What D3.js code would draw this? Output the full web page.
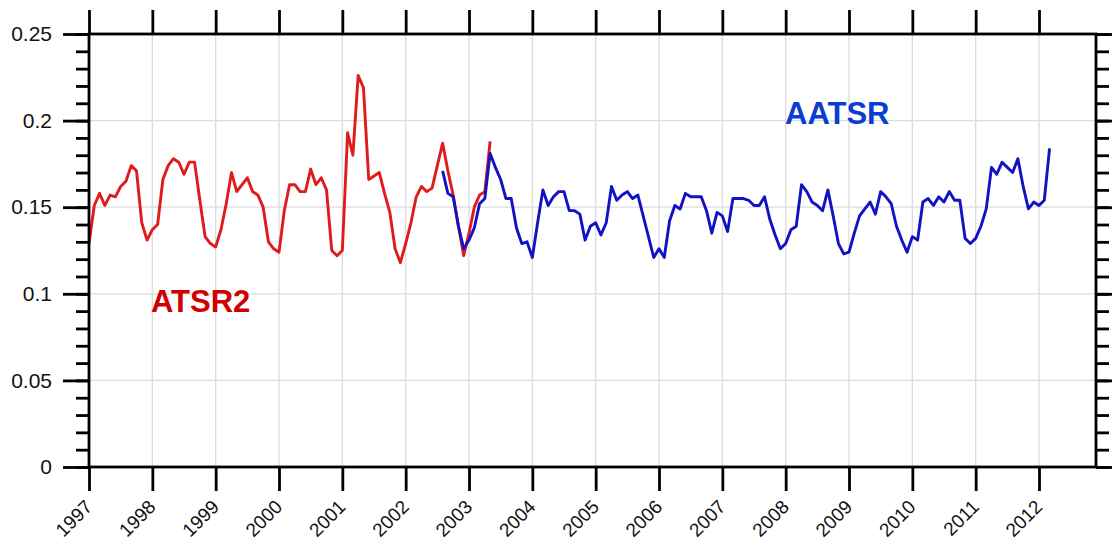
<!DOCTYPE html>
<html>
<head>
<meta charset="utf-8">
<script src="https://cdn.jsdelivr.net/npm/d3@7"></script>
<style>
  body { margin: 0; background: #fff; }
  text { font-family: "Liberation Sans", Arial, Helvetica, sans-serif; }
</style>
</head>
<body>
<div id="chart"></div>
<script>
// Monthly values, ATSR2 starts Jan 1997, AATSR starts Aug 2002
const atsr2Start = [1997, 0];
const atsr2Values = [
  0.129, 0.151, 0.158, 0.151, 0.157, 0.156, 0.162, 0.165, 0.174, 0.171, 0.141, 0.131,
  0.137, 0.140, 0.166, 0.174, 0.178, 0.176, 0.169, 0.176, 0.176, 0.154, 0.133, 0.129,
  0.127, 0.137, 0.152, 0.170, 0.159, 0.163, 0.167, 0.159, 0.157, 0.150, 0.130, 0.126,
  0.124, 0.148, 0.163, 0.163, 0.159, 0.159, 0.172, 0.163, 0.167, 0.160, 0.125, 0.122,
  0.125, 0.193, 0.180, 0.226, 0.219, 0.166, 0.168, 0.170, 0.158, 0.147, 0.126, 0.118,
  0.129, 0.141, 0.156, 0.162, 0.159, 0.161, 0.174, 0.187, 0.171, 0.157, 0.139, 0.122,
  0.135, 0.150, 0.157, 0.159, 0.188
];

const aatsrStart = [2002, 7];
const aatsrValues = [
  0.171, 0.158, 0.156, 0.139, 0.126,
  0.131, 0.138, 0.152, 0.155, 0.181, 0.173, 0.166, 0.155, 0.155, 0.138, 0.129, 0.130,
  0.121, 0.141, 0.160, 0.151, 0.156, 0.159, 0.159, 0.148, 0.148, 0.146, 0.131, 0.139,
  0.141, 0.134, 0.141, 0.162, 0.154, 0.157, 0.159, 0.155, 0.157, 0.145, 0.133, 0.121,
  0.126, 0.121, 0.142, 0.151, 0.149, 0.158, 0.156, 0.156, 0.156, 0.148, 0.135, 0.147,
  0.145, 0.136, 0.155, 0.155, 0.155, 0.154, 0.151, 0.151, 0.156, 0.143, 0.134, 0.126,
  0.129, 0.137, 0.139, 0.163, 0.159, 0.153, 0.151, 0.148, 0.160, 0.145, 0.129, 0.123,
  0.124, 0.135, 0.145, 0.149, 0.153, 0.146, 0.159, 0.156, 0.152, 0.139, 0.131, 0.124,
  0.133, 0.131, 0.153, 0.155, 0.151, 0.156, 0.153, 0.159, 0.154, 0.154, 0.132, 0.129,
  0.132, 0.139, 0.149, 0.173, 0.169, 0.176, 0.173, 0.170, 0.178, 0.162, 0.149, 0.153,
  0.151, 0.154, 0.184
];

const yearTicks = d3.range(1997, 2013);
const yTicks = [0, 0.05, 0.1, 0.15, 0.2, 0.25];
const seriesLabels = ["ATSR2", "AATSR"];

// Turn a monthly list into [decimal year, value] pairs
function toPoints(start, values) {
  return values.map((v, i) => [start[0] + (start[1] + i) / 12, v]);
}

const width = 1112, height = 540;
const margin = { top: 34, right: 16, bottom: 73, left: 89 };
const innerW = width - margin.left - margin.right,
      innerH = height - margin.top - margin.bottom;

const svg = d3.select("#chart").append("svg")
    .attr("width", width)
    .attr("height", height);

const x = d3.scaleLinear()
    .domain([1997, 2012.9])
    .range([margin.left, margin.left + innerW]);

const y = d3.scaleLinear()
    .domain([0, 0.25])
    .range([margin.top + innerH, margin.top]);

// Grid lines
const grid = svg.append("g").attr("class", "grid");
grid.selectAll(".vgrid")
    .data(yearTicks.slice(1))
    .join("line")
    .attr("x1", d => x(d)).attr("x2", d => x(d))
    .attr("y1", y(0)).attr("y2", y(0.25))
    .style("stroke", "#dcdcdc")
    .style("stroke-width", 1.3);
grid.selectAll(".hgrid")
    .data(yTicks.slice(1, -1))
    .join("line")
    .attr("x1", x.range()[0]).attr("x2", x.range()[1])
    .attr("y1", d => y(d)).attr("y2", d => y(d))
    .style("stroke", "#dcdcdc")
    .style("stroke-width", 1.3);

// Series lines
const line = d3.line()
    .x(d => x(d[0]))
    .y(d => y(d[1]));

svg.append("path")
    .datum(toPoints(atsr2Start, atsr2Values))
    .attr("d", line)
    .style("fill", "none")
    .style("stroke", "#e01b1b")
    .style("stroke-width", 2.9)
    .style("stroke-linejoin", "round");

svg.append("path")
    .datum(toPoints(aatsrStart, aatsrValues))
    .attr("d", line)
    .style("fill", "none")
    .style("stroke", "#1212c4")
    .style("stroke-width", 2.9)
    .style("stroke-linejoin", "round");

// Axes: major and minor ticks, all pointing outward
const minorTicks = d3.range(0, 0.2501, 0.01);

const leftMinor = d3.axisLeft(y).tickValues(minorTicks).tickSize(13).tickFormat("");
const leftMajor = d3.axisLeft(y).tickValues(yTicks).tickSize(26).tickPadding(11)
    .tickFormat(d => d === 0 ? "0" : String(+d.toFixed(2)));
const rightMinor = d3.axisRight(y).tickValues(minorTicks).tickSize(13).tickFormat("");
const rightMajor = d3.axisRight(y).tickValues(yTicks).tickSize(26).tickFormat("");
const bottomAxis = d3.axisBottom(x).tickValues(yearTicks).tickSize(24).tickFormat(d3.format("d"));
const topAxis = d3.axisTop(x).tickValues(yearTicks).tickSize(24).tickFormat("");

const axes = svg.append("g").attr("class", "axes");
axes.append("g").attr("transform", `translate(${x.range()[0]},0)`).call(leftMinor);
const leftG = axes.append("g").attr("transform", `translate(${x.range()[0]},0)`).call(leftMajor);
axes.append("g").attr("transform", `translate(${x.range()[1]},0)`).call(rightMinor);
axes.append("g").attr("transform", `translate(${x.range()[1]},0)`).call(rightMajor);
const bottomG = axes.append("g").attr("transform", `translate(0,${y(0)})`).call(bottomAxis);
axes.append("g").attr("transform", `translate(0,${y(0.25)})`).call(topAxis);

axes.selectAll(".domain").remove();
axes.selectAll(".tick line")
    .style("stroke", "#000")
    .style("stroke-width", 2.8);

// Label sizes set on the groups and on the texts
leftG.attr("font-size", 21).attr("font-family", "Liberation Sans, Arial, sans-serif");
leftG.selectAll("text")
    .attr("font-size", 21)
    .style("font-size", "21px")
    .style("fill", "#111");

bottomG.attr("font-size", 19).attr("font-family", "Liberation Sans, Arial, sans-serif");
bottomG.selectAll("text")
    .attr("font-size", 19)
    .style("font-size", "19px")
    .style("fill", "#111")
    .attr("text-anchor", "end")
    .attr("y", 0).attr("dy", 0)
    .attr("transform", "translate(4,41) rotate(-45)");

// Frame
svg.append("rect")
    .attr("x", x.range()[0]).attr("y", y(0.25))
    .attr("width", innerW).attr("height", innerH)
    .style("fill", "none")
    .style("stroke", "#000")
    .style("stroke-width", 2.8);

// Series labels
svg.append("text")
    .attr("x", 151).attr("y", 312)
    .text(seriesLabels[0])
    .style("font-size", "31px")
    .style("font-weight", "bold")
    .style("fill", "#d00000");

svg.append("text")
    .attr("x", 785).attr("y", 124)
    .text(seriesLabels[1])
    .style("font-size", "31px")
    .style("font-weight", "bold")
    .style("fill", "#0a3dd2");
</script>
</body>
</html>
